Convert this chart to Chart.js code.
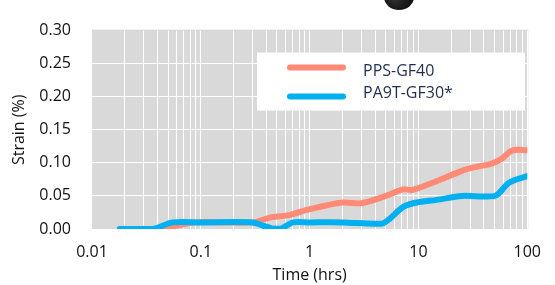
<!DOCTYPE html>
<html>
<head>
<meta charset="utf-8">
<script src="https://cdn.jsdelivr.net/npm/chart.js@4/dist/chart.umd.min.js"></script>
<style>
  html, body { margin: 0; padding: 0; background: #ffffff; }
  #wrap { width: 555px; height: 285px; position: relative; }
</style>
</head>
<body>
<div id="wrap"><canvas id="c" width="555" height="285"></canvas></div>
<script>
// ---- data ----
const seriesNames = ["PPS-GF40", "PA9T-GF30*"];
const ppsTime   = [0.018, 0.04, 0.09, 0.15, 0.3, 0.45, 0.65, 1.0, 2.0, 3.0, 5.0, 7.2, 8.8, 15, 25, 34, 47, 58, 73, 100];
const ppsStrain = [0, 0, 0.01, 0.01, 0.01, 0.018, 0.021, 0.03, 0.04, 0.039, 0.05, 0.06, 0.059, 0.073, 0.088, 0.094, 0.099, 0.106, 0.119, 0.119];
const pa9tTime   = [0.018, 0.036, 0.055, 0.1, 0.3, 0.36, 0.45, 0.55, 0.7, 1.0, 2.0, 4.6, 5.4, 7.2, 9.6, 14.7, 25, 41, 52, 68, 100];
const pa9tStrain = [0, 0, 0.01, 0.01, 0.01, 0.006, 0.001, 0.001, 0.01, 0.01, 0.01, 0.008, 0.015, 0.033, 0.04, 0.044, 0.05, 0.049, 0.051, 0.07, 0.08];
const xTickValues = [0.01, 0.1, 1, 10, 100];
const yTickValues = [0, 0.05, 0.10, 0.15, 0.20, 0.25, 0.30];

const FONT = "'Open Sans', 'DejaVu Sans', sans-serif";
const toPoints = (xs, ys) => xs.map((x, i) => ({ x: x, y: ys[i] }));

const bgPlugin = {
  id: 'plotBg',
  beforeDraw(chart) {
    const { ctx, chartArea: a } = chart;
    ctx.save();
    ctx.fillStyle = '#d9d9d9';
    ctx.fillRect(a.left, a.top - 1, a.right - a.left + 1, a.bottom - a.top + 1);
    ctx.restore();
  }
};

const legendPlugin = {
  id: 'boxLegend',
  afterDraw(chart) {
    const { ctx, chartArea: a } = chart;
    const bx = a.left + 165, by = a.top + 22, bw = 268, bh = 58;
    ctx.save();
    ctx.fillStyle = '#ffffff';
    ctx.fillRect(bx, by, bw, bh);
    const lineYs = [by + 15, by + 44];
    const textYs = [by + 19, by + 41];
    chart.data.datasets.forEach((ds, i) => {
      ctx.strokeStyle = ds.borderColor;
      ctx.lineWidth = 6;
      ctx.lineCap = 'round';
      ctx.beginPath();
      ctx.moveTo(bx + 33, lineYs[i]);
      ctx.lineTo(bx + 86, lineYs[i]);
      ctx.stroke();
      ctx.fillStyle = '#1f2d4f';
      ctx.font = '16px ' + FONT;
      ctx.textBaseline = 'middle';
      ctx.textAlign = 'left';
      ctx.fillText(ds.label, bx + 106, textYs[i]);
    });
    ctx.restore();
  }
};

const blobPlugin = {
  id: 'blob',
  afterDraw(chart) {
    const { ctx } = chart;
    ctx.save();
    const g = ctx.createRadialGradient(394, -4, 2, 398, -2, 16);
    g.addColorStop(0, '#333333');
    g.addColorStop(1, '#0d0d0d');
    ctx.fillStyle = g;
    ctx.beginPath();
    ctx.ellipse(399, -3, 15, 13, 0, 0, Math.PI * 2);
    ctx.fill();
    ctx.restore();
  }
};

new Chart(document.getElementById('c'), {
  type: 'line',
  data: {
    datasets: [
      {
        label: seriesNames[0],
        data: toPoints(ppsTime, ppsStrain),
        borderColor: '#ff8a75',
        backgroundColor: '#ff8a75',
        borderWidth: 6,
        pointRadius: 0,
        tension: 0.3,
        borderCapStyle: 'round',
        borderJoinStyle: 'round',
        order: 2
      },
      {
        label: seriesNames[1],
        data: toPoints(pa9tTime, pa9tStrain),
        borderColor: '#00b0f0',
        backgroundColor: '#00b0f0',
        borderWidth: 6,
        pointRadius: 0,
        tension: 0.3,
        borderCapStyle: 'round',
        borderJoinStyle: 'round',
        order: 1
      }
    ]
  },
  options: {
    responsive: false,
    animation: false,
    events: [],
    layout: { padding: { top: 13, right: 27, left: 0, bottom: 0 } },
    plugins: {
      legend: { display: false },
      tooltip: { enabled: false }
    },
    scales: {
      x: {
        type: 'logarithmic',
        min: 0.01,
        max: 100,
        afterFit(scale) { scale.height = 56; },
        afterBuildTicks(scale) {
          const t = [];
          for (let e = -2; e < 2; e++) {
            for (let m = 1; m <= 9; m++) t.push({ value: m * Math.pow(10, e) });
          }
          t.push({ value: 100 });
          scale.ticks = t;
        },
        grid: {
          color: (c) => (c.tick && Math.abs(c.tick.value - 0.01) < 1e-9) ? 'rgba(0,0,0,0)' : '#ffffff',
          lineWidth: 1,
          drawTicks: false
        },
        border: { display: false },
        ticks: {
          autoSkip: false,
          maxRotation: 0,
          padding: 14,
          color: '#111111',
          font: { family: FONT, size: 16 },
          callback: (v) => {
            const hit = xTickValues.find(tv => Math.abs(tv - v) / tv < 1e-6);
            return hit !== undefined ? String(hit) : '';
          }
        },
        title: {
          display: true,
          text: 'Time (hrs)',
          color: '#111111',
          font: { family: FONT, size: 16 },
          padding: { top: 0, bottom: 0 }
        }
      },
      y: {
        type: 'linear',
        min: 0,
        max: 0.30,
        afterFit(scale) { scale.width = 92; },
        afterBuildTicks(scale) { scale.ticks = yTickValues.map(v => ({ value: v })); },
        grid: {
          color: (c) => (c.tick && c.tick.value >= 0.2999) ? 'rgba(0,0,0,0)' : '#ffffff',
          lineWidth: 1,
          drawTicks: false
        },
        border: { display: false },
        ticks: {
          padding: 21,
          color: '#111111',
          font: { family: FONT, size: 16 },
          callback: (v) => Number(v).toFixed(2)
        },
        title: {
          display: true,
          text: 'Strain (%)',
          color: '#111111',
          font: { family: FONT, size: 16 },
          padding: { top: 10, bottom: 0 }
        }
      }
    }
  },
  plugins: [bgPlugin, legendPlugin, blobPlugin]
});
</script>
</body>
</html>
